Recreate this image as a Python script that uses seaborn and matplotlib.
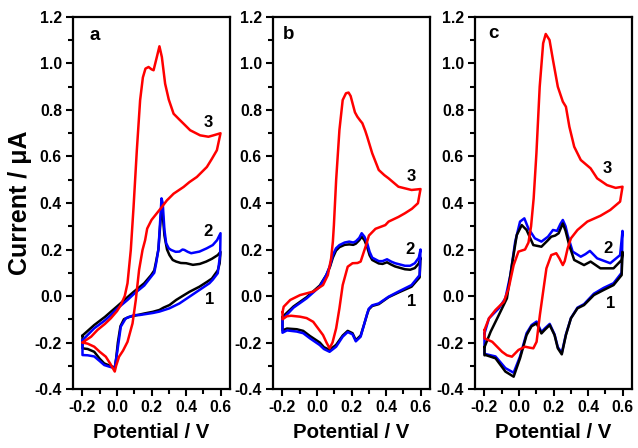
import numpy as np
import pandas as pd
import matplotlib
matplotlib.use("Agg")
import matplotlib.pyplot as plt
from matplotlib.ticker import MultipleLocator, FormatStrFormatter
import seaborn as sns

# ---------------- cyclic voltammograms (potential in V, current in uA) ----------------
# Each loop: forward sweep -0.2 -> 0.6 V followed by the reverse sweep back to -0.2 V.

# panel a
a1_E = [-0.2, -0.132, -0.07, -0.036, 0.0, 0.061, 0.1, 0.158, 0.198, 0.216, 0.227, 0.24, 0.25, 0.258,
        0.265, 0.275, 0.29, 0.304, 0.323, 0.343, 0.37, 0.401, 0.44, 0.48, 0.517, 0.55, 0.584, 0.6,
        0.595, 0.584, 0.55, 0.52, 0.478, 0.42, 0.38, 0.343, 0.304, 0.27, 0.246, 0.208, 0.16, 0.13,
        0.1, 0.07, 0.04, 0.02, 0.005, -0.005, -0.013, -0.026, -0.05, -0.074, -0.1, -0.132, -0.17, -0.2]
a1_I = [-0.17, -0.125, -0.09, -0.068, -0.045, -0.005, 0.02, 0.055, 0.09, 0.11, 0.15, 0.2, 0.3, 0.38,
        0.35, 0.26, 0.2, 0.176, 0.155, 0.148, 0.142, 0.141, 0.134, 0.138, 0.148, 0.16, 0.176, 0.19,
        0.14, 0.11, 0.075, 0.06, 0.04, 0.018, 0.0, -0.017, -0.039, -0.05, -0.06, -0.068, -0.075, -0.08,
        -0.085, -0.09, -0.1, -0.13, -0.2, -0.27, -0.31, -0.304, -0.297, -0.29, -0.27, -0.24, -0.228, -0.225]

a2_E = [-0.2, -0.132, -0.07, -0.036, 0.0, 0.061, 0.1, 0.158, 0.198, 0.216, 0.227, 0.24, 0.25, 0.258,
        0.265, 0.275, 0.285, 0.3, 0.314, 0.34, 0.362, 0.38, 0.391, 0.41, 0.43, 0.478, 0.52, 0.555, 0.58, 0.6,
        0.598, 0.584, 0.555, 0.536, 0.478, 0.42, 0.362, 0.304, 0.246, 0.208, 0.13, 0.1, 0.051, 0.022,
        0.003, -0.013, -0.04, -0.074, -0.1, -0.132, -0.17, -0.2]
a2_I = [-0.19, -0.139, -0.105, -0.082, -0.055, -0.017, 0.01, 0.045, 0.083, 0.1, 0.141, 0.2, 0.32, 0.42,
        0.40, 0.284, 0.227, 0.205, 0.198, 0.19, 0.191, 0.2, 0.198, 0.19, 0.184, 0.191, 0.205, 0.219, 0.24, 0.27,
        0.18, 0.098, 0.07, 0.055, 0.026, -0.003, -0.032, -0.053, -0.067, -0.073, -0.082, -0.082, -0.096, -0.132,
        -0.232, -0.31, -0.305, -0.297, -0.28, -0.26, -0.255, -0.254]

a3_E = [-0.2, -0.15, -0.113, -0.07, -0.036, 0.0, 0.022, 0.045, 0.061, 0.08, 0.096, 0.115, 0.134, 0.15,
        0.165, 0.183, 0.2, 0.212, 0.231, 0.246, 0.26, 0.279, 0.3, 0.328, 0.36, 0.386, 0.424, 0.482, 0.53,
        0.559, 0.6,
        0.579, 0.55, 0.521, 0.463, 0.42, 0.386, 0.328, 0.289, 0.26, 0.2, 0.175, 0.163, 0.148, 0.128, 0.109,
        0.09, 0.061, 0.035, 0.012, -0.005, -0.013, -0.04, -0.065, -0.1, -0.132, -0.17, -0.2]
a3_I = [-0.2, -0.175, -0.146, -0.12, -0.096, -0.065, -0.039, 0.0, 0.055, 0.198, 0.383, 0.627, 0.842, 0.94,
        0.978, 0.985, 0.975, 0.971, 1.028, 1.074, 1.028, 0.913, 0.845, 0.784, 0.76, 0.741, 0.713, 0.691, 0.685,
        0.691, 0.70,
        0.627, 0.59, 0.555, 0.512, 0.49, 0.469, 0.44, 0.411, 0.383, 0.327, 0.29, 0.24, 0.198, 0.112, -0.017,
        -0.118, -0.197, -0.235, -0.261, -0.30, -0.325, -0.29, -0.261, -0.24, -0.218, -0.205, -0.2]

# panel b
b1_E = [-0.2, -0.136, -0.06, 0.016, 0.054, 0.075, 0.092, 0.11, 0.13, 0.16, 0.187, 0.21, 0.225, 0.245,
        0.259, 0.275, 0.291, 0.305, 0.32, 0.358, 0.38, 0.406, 0.43, 0.453, 0.51, 0.54, 0.567, 0.59, 0.6,
        0.595, 0.548, 0.472, 0.415, 0.358, 0.32, 0.3, 0.291, 0.272, 0.253, 0.225, 0.206, 0.178, 0.149,
        0.111, 0.073, 0.04, 0.016, -0.041, -0.08, -0.117, -0.174, -0.2]
b1_I = [-0.09, -0.045, -0.005, 0.045, 0.09, 0.125, 0.165, 0.195, 0.21, 0.22, 0.222, 0.22, 0.225, 0.24,
        0.255, 0.24, 0.21, 0.175, 0.155, 0.14, 0.138, 0.145, 0.135, 0.127, 0.115, 0.113, 0.12, 0.14, 0.165,
        0.08, 0.04, 0.015, -0.005, -0.035, -0.043, -0.058, -0.078, -0.125, -0.17, -0.19, -0.16, -0.15, -0.17,
        -0.21, -0.232, -0.22, -0.2, -0.172, -0.15, -0.143, -0.14, -0.148]

b2_E = [-0.2, -0.136, -0.06, 0.016, 0.054, 0.075, 0.092, 0.11, 0.13, 0.16, 0.187, 0.21, 0.225, 0.245,
        0.259, 0.275, 0.291, 0.305, 0.32, 0.358, 0.38, 0.406, 0.43, 0.453, 0.51, 0.54, 0.567, 0.59, 0.6,
        0.595, 0.548, 0.472, 0.415, 0.358, 0.32, 0.3, 0.291, 0.272, 0.253, 0.225, 0.206, 0.178, 0.149,
        0.111, 0.073, 0.04, 0.016, -0.041, -0.08, -0.117, -0.174, -0.2]
b2_I = [-0.1, -0.05, -0.01, 0.04, 0.09, 0.13, 0.176, 0.205, 0.219, 0.23, 0.234, 0.23, 0.235, 0.25,
        0.27, 0.255, 0.227, 0.19, 0.165, 0.15, 0.15, 0.158, 0.148, 0.141, 0.13, 0.13, 0.141, 0.165, 0.2,
        0.09, 0.047, 0.019, -0.003, -0.032, -0.04, -0.055, -0.075, -0.125, -0.175, -0.195, -0.165, -0.155,
        -0.175, -0.218, -0.24, -0.228, -0.211, -0.182, -0.16, -0.153, -0.148, -0.158]

b3_E = [-0.2, -0.193, -0.155, -0.098, -0.022, 0.035, 0.063, 0.082, 0.092, 0.098, 0.111, 0.13, 0.149,
        0.168, 0.183, 0.195, 0.206, 0.22, 0.234, 0.25, 0.263, 0.28, 0.291, 0.32, 0.358, 0.39, 0.415, 0.472,
        0.548, 0.6,
        0.585, 0.55, 0.51, 0.472, 0.415, 0.396, 0.339, 0.301, 0.285, 0.272, 0.253, 0.235, 0.206, 0.178,
        0.149, 0.13, 0.111, 0.09, 0.073, 0.055, 0.035, -0.022, -0.06, -0.098, -0.15, -0.174, -0.2]
b3_I = [-0.07, -0.046, -0.017, 0.004, 0.019, 0.047, 0.09, 0.162, 0.234, 0.305, 0.499, 0.714, 0.843,
        0.872, 0.875, 0.86, 0.829, 0.79, 0.771, 0.755, 0.743, 0.71, 0.685, 0.614, 0.542, 0.52, 0.506, 0.47,
        0.456, 0.46,
        0.399, 0.375, 0.356, 0.34, 0.32, 0.305, 0.289, 0.26, 0.22, 0.191, 0.148, 0.142, 0.141, 0.126,
        0.047, -0.053, -0.139, -0.2, -0.225, -0.2, -0.168, -0.111, -0.095, -0.089, -0.085, -0.087, -0.1]

# panel c
c1_E = [-0.2, -0.164, -0.117, -0.07, -0.041, -0.013, 0.016, 0.044, 0.083, 0.13, 0.168, 0.187, 0.21,
        0.23, 0.254, 0.27, 0.291, 0.32, 0.377, 0.415, 0.472, 0.548, 0.595, 0.6,
        0.595, 0.548, 0.491, 0.434, 0.377, 0.339, 0.301, 0.272, 0.248, 0.225, 0.206, 0.178, 0.149, 0.13,
        0.102, 0.073, 0.044, 0.006, -0.031, -0.079, -0.136, -0.193, -0.2]
c1_I = [-0.22, -0.153, -0.082, -0.01, 0.133, 0.262, 0.305, 0.284, 0.219, 0.212, 0.24, 0.255, 0.26,
        0.27, 0.312, 0.28, 0.219, 0.155, 0.133, 0.148, 0.119, 0.119, 0.155, 0.19,
        0.09, 0.047, 0.026, 0.004, -0.039, -0.053, -0.096, -0.168, -0.251, -0.225, -0.168, -0.125, -0.146,
        -0.161, -0.118, -0.13, -0.168, -0.268, -0.347, -0.325, -0.268, -0.254, -0.255]

c2_E = [-0.2, -0.174, -0.117, -0.079, -0.05, -0.022, 0.006, 0.031, 0.054, 0.092, 0.13, 0.168, 0.197,
        0.221, 0.24, 0.254, 0.27, 0.282, 0.311, 0.358, 0.385, 0.411, 0.453, 0.529, 0.586, 0.6,
        0.595, 0.548, 0.491, 0.434, 0.377, 0.339, 0.301, 0.272, 0.248, 0.225, 0.206, 0.178, 0.149, 0.13,
        0.102, 0.073, 0.044, 0.006, -0.031, -0.079, -0.136, -0.193, -0.2]
c2_I = [-0.161, -0.096, -0.053, -0.01, 0.09, 0.234, 0.32, 0.334, 0.291, 0.248, 0.234, 0.255, 0.284,
        0.28, 0.31, 0.327, 0.3, 0.262, 0.191, 0.169, 0.18, 0.194, 0.162, 0.141, 0.176, 0.28,
        0.1, 0.055, 0.035, 0.01, -0.035, -0.05, -0.095, -0.165, -0.245, -0.22, -0.165, -0.12, -0.14, -0.155,
        -0.11, -0.125, -0.16, -0.26, -0.33, -0.31, -0.26, -0.25, -0.25]

c3_E = [-0.2, -0.174, -0.136, -0.088, -0.06, -0.031, -0.003, 0.035, 0.055, 0.07, 0.085, 0.101, 0.12,
        0.14, 0.155, 0.177, 0.197, 0.225, 0.254, 0.272, 0.292, 0.32, 0.358, 0.415, 0.453, 0.51, 0.56, 0.6,
        0.586, 0.529, 0.472, 0.396, 0.339, 0.301, 0.282, 0.265, 0.254, 0.234, 0.216, 0.187, 0.159, 0.14,
        0.121, 0.102, 0.083, 0.06, 0.035, -0.003, -0.041, -0.07, -0.098, -0.155, -0.2]
c3_I = [-0.146, -0.096, -0.06, -0.025, 0.033, 0.133, 0.191, 0.2, 0.23, 0.3, 0.42, 0.614, 0.9,
        1.087, 1.127, 1.101, 1.015, 0.9, 0.836, 0.814, 0.728, 0.642, 0.585, 0.549, 0.506, 0.477, 0.465, 0.47,
        0.406, 0.37, 0.345, 0.32, 0.284, 0.248, 0.205, 0.15, 0.133, 0.162, 0.184, 0.176, 0.119, 0.019,
        -0.082, -0.197, -0.225, -0.222, -0.218, -0.232, -0.261, -0.255, -0.24, -0.197, -0.182]

# curve numbers and their label positions (V, uA)
curve_ids = ["1", "2", "3"]
panel_letters = ["a", "b", "c"]
letter_pos = [(-0.131, 1.121), (-0.165, 1.123), (-0.146, 1.127)]
number_pos = {
    "a": [(0.535, -0.017), (0.529, 0.277), (0.529, 0.748)],
    "b": [(0.546, -0.024), (0.540, 0.198), (0.546, 0.513)],
    "c": [(0.530, -0.031), (0.515, 0.205), (0.510, 0.549)],
}
draw_order = {"a": ["1", "2", "3"], "b": ["1", "2", "3"], "c": ["2", "1", "3"]}

loops = {
    ("a", "1"): (a1_E, a1_I), ("a", "2"): (a2_E, a2_I), ("a", "3"): (a3_E, a3_I),
    ("b", "1"): (b1_E, b1_I), ("b", "2"): (b2_E, b2_I), ("b", "3"): (b3_E, b3_I),
    ("c", "1"): (c1_E, c1_I), ("c", "2"): (c2_E, c2_I), ("c", "3"): (c3_E, c3_I),
}

frames = []
for (panel, cid), (E, I) in loops.items():
    E = list(E) + [E[0]]   # close the loop
    I = list(I) + [I[0]]
    frames.append(pd.DataFrame({"panel": panel, "curve": cid, "E": E, "I": I,
                                "step": np.arange(len(E))}))
cv = pd.concat(frames, ignore_index=True)

# ---------------- styling ----------------
sns.set_style("ticks")
plt.rcParams["font.family"] = ["Liberation Sans", "DejaVu Sans"]
plt.rcParams["font.weight"] = "bold"
plt.rcParams["axes.unicode_minus"] = False
for key in ("text.color", "axes.labelcolor", "xtick.color", "ytick.color", "axes.edgecolor"):
    plt.rcParams[key] = "black"

palette = {"1": "#000000", "2": "#0000ff", "3": "#ff0000"}

fig = plt.figure(figsize=(6.38, 4.48), dpi=100)
W, H = 638.0, 448.0
lefts = [73, 273, 475]
width_px = 157
bottom_px, height_px = 59, 372

for k, panel in enumerate(panel_letters):
    ax = fig.add_axes([lefts[k] / W, bottom_px / H, width_px / W, height_px / H])
    sub = cv[cv["panel"] == panel]
    sns.lineplot(data=sub, x="E", y="I", hue="curve", hue_order=draw_order[panel],
                 palette=palette, sort=False, estimator=None, linewidth=1.8,
                 legend=False, ax=ax)
    ax.set_xlim(-0.255, 0.655)
    ax.set_ylim(-0.4, 1.2)
    ax.xaxis.set_major_locator(MultipleLocator(0.2))
    ax.xaxis.set_minor_locator(MultipleLocator(0.1))
    ax.yaxis.set_major_locator(MultipleLocator(0.2))
    ax.yaxis.set_minor_locator(MultipleLocator(0.1))
    ax.xaxis.set_major_formatter(FormatStrFormatter("%.1f"))
    ax.yaxis.set_major_formatter(FormatStrFormatter("%.1f"))
    ax.tick_params(which="major", direction="out", length=5, width=1.5,
                   labelsize=11.3, pad=3, colors="black")
    ax.tick_params(which="minor", direction="out", length=3.5, width=1.5, colors="black")
    for lab in ax.get_xticklabels() + ax.get_yticklabels():
        lab.set_fontweight("bold")
    for s in ax.spines.values():
        s.set_visible(True)
        s.set_linewidth(1.6)
        s.set_color("black")
    ax.set_xlabel("Potential / V", fontsize=14.7, fontweight="bold", labelpad=6, color="black")
    if k == 0:
        ax.set_ylabel("Current / \u03bcA", fontsize=18, fontweight="bold", labelpad=2, color="black")
    else:
        ax.set_ylabel("")

    lx, ly = letter_pos[k]
    ax.text(lx, ly, panel, fontsize=13.5, fontweight="bold", ha="center", va="center", color="black")
    for cid, (nx, ny) in zip(curve_ids, number_pos[panel]):
        ax.text(nx, ny, cid, fontsize=12, fontweight="bold", ha="center", va="center", color="black")

fig.savefig("out.png", dpi=100)
